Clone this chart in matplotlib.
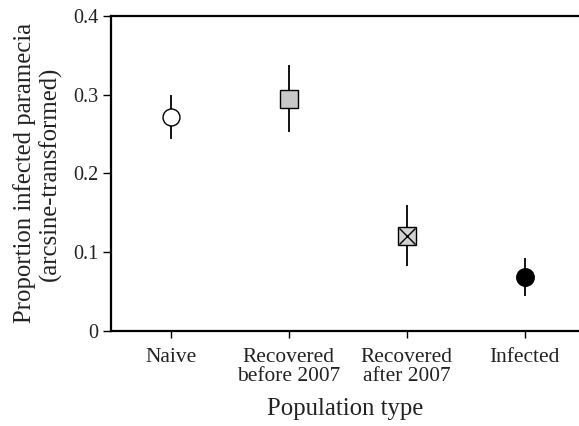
import matplotlib
matplotlib.use("Agg")
import matplotlib.pyplot as plt

categories = ["Naive", "Recovered\nbefore 2007", "Recovered\nafter 2007", "Infected"]
means = [0.271, 0.294, 0.120, 0.068]
upper = [0.300, 0.337, 0.160, 0.092]
lower = [0.243, 0.252, 0.083, 0.044]
yticks = [0, 0.1, 0.2, 0.3, 0.4]
ytick_labels = ["0", "0.1", "0.2", "0.3", "0.4"]

plt.rcParams['font.family'] = ['Liberation Serif', 'DejaVu Serif']
text_color = '#222222'

fig = plt.figure(figsize=(5.79, 4.26), dpi=100)
ax = fig.add_axes([111/579, (426-331)/426, 1 - 111/579, (331-15.7)/426])

xs = list(range(len(categories)))
yerr = [[m - l for m, l in zip(means, lower)], [u - m for m, u in zip(means, upper)]]
ax.errorbar(xs, means, yerr=yerr, fmt='none', ecolor='black', elinewidth=1.3, capsize=0, zorder=2)

styles = [
    dict(marker='o', mfc='white', mec='black', ms=12.2),
    dict(marker='s', mfc='#c8c8c8', mec='black', ms=12.4),
    dict(marker='s', mfc='#d2d2d2', mec='black', ms=12.4),
    dict(marker='o', mfc='black', mec='black', ms=12.6),
]
for x, m, st in zip(xs, means, styles):
    ax.plot([x], [m], linestyle='none', mew=1.0, zorder=3, **st)
# cross inside the "recovered after 2007" square
ax.plot([xs[2]], [means[2]], linestyle='none', marker='x', ms=11.5, mew=1.0, color='black', zorder=4)

ax.set_xlim(-0.506, 3.46)
ax.set_ylim(0, 0.4)
ax.set_xticks(xs)
ax.set_xticklabels(categories, fontsize=15.4, linespacing=1.0, color=text_color)
ax.set_yticks(yticks)
ax.set_yticklabels(ytick_labels, fontsize=14.5, color=text_color)

for s in ['left', 'bottom', 'top']:
    ax.spines[s].set_linewidth(1.6)
ax.spines['right'].set_visible(False)
ax.tick_params(axis='x', direction='out', length=5, width=1.0, pad=7, colors='black', labelcolor=text_color)
ax.tick_params(axis='y', direction='out', length=6, width=1.0, pad=3, colors='black', labelcolor=text_color)

ax.set_xlabel("Population type", fontsize=17.8, labelpad=9, color=text_color)
ax.set_ylabel("Proportion infected paramecia\n(arcsine-transformed)", fontsize=17.8, linespacing=1.15, labelpad=8, color=text_color)

fig.savefig("out.png", dpi=100)
